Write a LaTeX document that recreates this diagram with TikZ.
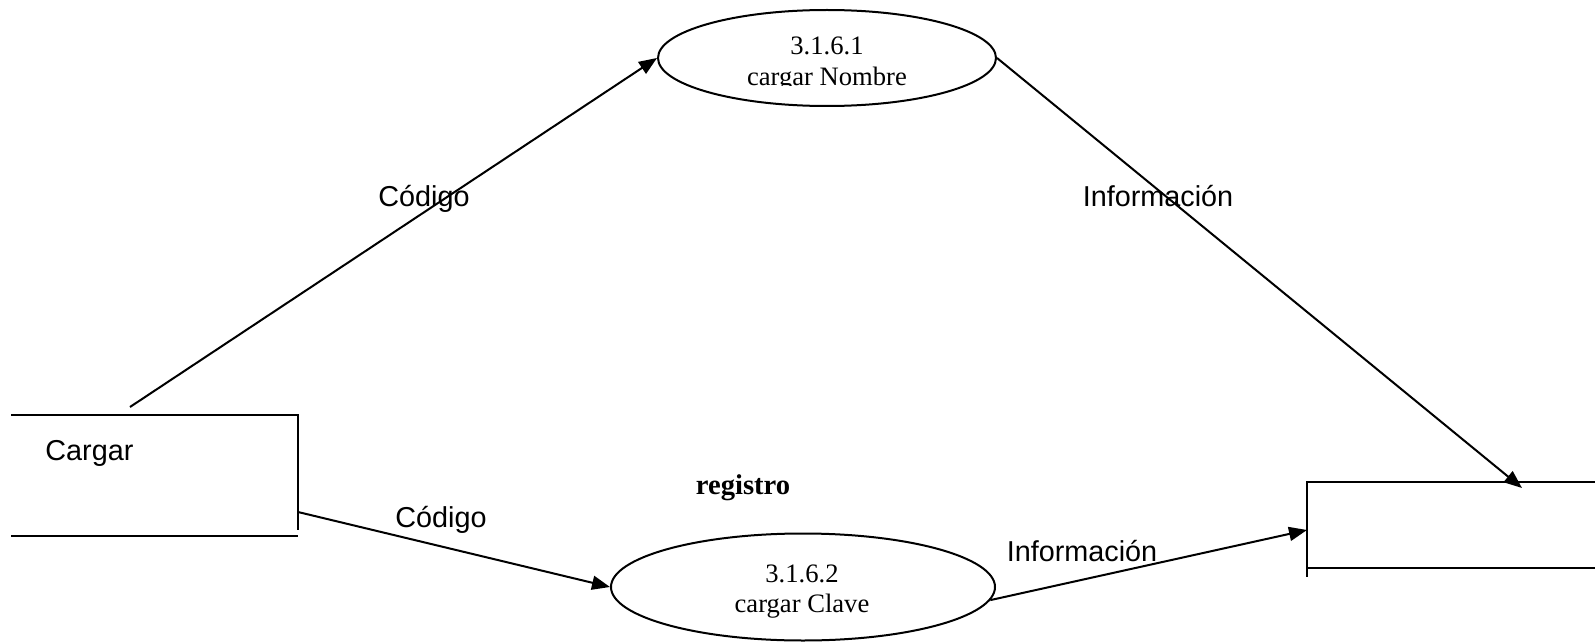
\documentclass[tikz,border=0pt]{standalone}
\usepackage{fontspec}
\setmainfont{Liberation Serif}
\newfontfamily\arialf{Liberation Sans}
\usetikzlibrary{shapes.geometric,arrows.meta}
\tikzset{
  proc/.style={draw,line width=1pt,ellipse,inner sep=0pt},
  proctext/.style={anchor=base,inner sep=0pt,font=\fontsize{13.3}{15}\selectfont},
  flow/.style={line width=1pt,-{Triangle[length=9pt,width=7pt]}},
  flowlbl/.style={font=\arialf\fontsize{14.4}{17}\selectfont,inner sep=0pt},
  boxline/.style={line width=1pt},
}
\begin{document}
\begin{tikzpicture}[x=0.5pt,y=-0.5pt]
\useasboundingbox (0,0) rectangle (1595,642);
% Cargar box (open on the left)
\draw[boxline] (11,415) -- (298,415) -- (298,530);
\draw[boxline] (11,536) -- (298,536);
\node[flowlbl,anchor=west] (cargar) at (45,453) {Cargar};
% right store box (open on the right)
\draw[boxline] (1595,482) -- (1307,482) -- (1307,577);
\draw[boxline] (1307,568) -- (1595,568);
% processes
\node[proc,minimum width=169pt,minimum height=48pt] (p1) at (827,58) {};
\begin{scope}
\clip (700,20) rectangle (960,85.5);
\node[proctext] (p1a) at (827,55) {3.1.6.1};
\node[proctext] (p1b) at (827,86) {cargar Nombre};
\end{scope}
\node[proc,minimum width=192pt,minimum height=53.5pt] (p2) at (803,587) {};
\node[proctext] (p2a) at (802,582) {3.1.6.2};
\node[proctext] (p2b) at (802,612) {cargar Clave};
\node[font=\bfseries\fontsize{14.3}{17}\selectfont,inner sep=0pt] (reg) at (743,488) {registro};
% connector ends
\coordinate (c1) at (130,407);
\coordinate (c2) at (298,512);
\coordinate (r1) at (1522,488);
\coordinate (r2) at (1307,530);
% flows
\draw[flow] (c1) -- (p1.west);
\draw[flow] (c2) -- (p2.west);
\draw[flow] (p1.east) -- (r1);
\draw[flow] (p2.-4.5) -- (r2);
% labels
\node[flowlbl] (l1) at (424,199) {Código};
\node[flowlbl] (l2) at (1158,196) {Información};
\node[flowlbl] (l3) at (441,520) {Código};
\node[flowlbl] (l4) at (1082,551) {Información};
\end{tikzpicture}
\end{document}
